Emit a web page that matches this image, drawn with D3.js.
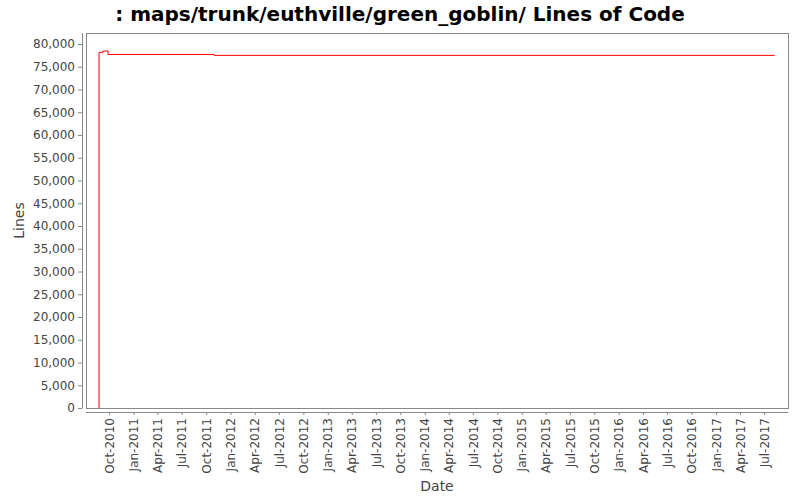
<!DOCTYPE html>
<html>
<head>
<meta charset="utf-8">
<script src="https://cdn.jsdelivr.net/npm/d3@7"></script>
<style>
  body { margin: 0; background: #fff; }
  text { font-family: "DejaVu Sans", sans-serif; }
</style>
</head>
<body>
<div id="chart-area"></div>
<script>
const title = ": maps/trunk/euthville/green_goblin/ Lines of Code";

// step points of the lines-of-code series
const dates = ["2010-08-23", "2010-08-24", "2010-09-08", "2010-09-27", "2011-10-31", "2017-08-10"];
const lines = [0, 78175, 78460, 77700, 77500, 77500];

const yTicks = d3.range(0, 80001, 5000);
const xTickDates = ["2010-10-01", "2011-01-01", "2011-04-01", "2011-07-01", "2011-10-01",
  "2012-01-01", "2012-04-01", "2012-07-01", "2012-10-01", "2013-01-01", "2013-04-01",
  "2013-07-01", "2013-10-01", "2014-01-01", "2014-04-01", "2014-07-01", "2014-10-01",
  "2015-01-01", "2015-04-01", "2015-07-01", "2015-10-01", "2016-01-01", "2016-04-01",
  "2016-07-01", "2016-10-01", "2017-01-01", "2017-04-01", "2017-07-01"];

const parse = d3.utcParse("%Y-%m-%d");
const data = dates.map((d, i) => ({ date: parse(d), value: lines[i] }));

const svg = d3.select("#chart-area").append("svg")
    .attr("width", 800)
    .attr("height", 500);

const pLeft = 86, pRight = 788, pTop = 33, pBottom = 408;

const x = d3.scaleUtc()
    .domain([parse("2010-07-06"), parse("2017-09-29")])
    .range([pLeft, pRight]);

const y = d3.scaleLinear()
    .domain([0, 80000 * (pBottom - pTop) / (pBottom - 44)])
    .range([pBottom, pTop]);

svg.append("text")
    .attr("x", 400)
    .attr("y", 21)
    .attr("text-anchor", "middle")
    .style("font-size", "20px")
    .style("font-weight", "bold")
    .text(title);

// plot frame
svg.append("rect")
    .attr("x", pLeft + 0.5).attr("y", pTop + 0.5)
    .attr("width", pRight - pLeft).attr("height", pBottom - pTop)
    .attr("fill", "#fff")
    .attr("stroke", "#888");

// y axis
const yAxis = svg.append("g")
    .attr("transform", "translate(82,0)")
    .call(d3.axisLeft(y).tickValues(yTicks).tickFormat(d3.format(",")).tickSizeOuter(0).tickSize(4));
yAxis.select(".domain").attr("stroke", "#888").attr("d", `M0.5,${pTop}V${pBottom + 0.5}`);
yAxis.selectAll(".tick line").attr("stroke", "#888");
yAxis.selectAll(".tick text")
    .attr("fill", "#444")
    .style("font-size", "12px")
    .style("font-family", "DejaVu Sans, sans-serif");

// x axis
const xAxis = svg.append("g")
    .attr("transform", `translate(0,412)`)
    .call(d3.axisBottom(x).tickValues(xTickDates.map(parse)).tickFormat(d3.utcFormat("%b-%Y")).tickSizeOuter(0).tickSize(3));
xAxis.select(".domain").attr("stroke", "#888").attr("d", `M${pLeft},0.5H${pRight}`);
xAxis.selectAll(".tick line").attr("stroke", "#888");
xAxis.selectAll(".tick text")
    .attr("fill", "#444")
    .style("font-size", "12px")
    .style("font-family", "DejaVu Sans, sans-serif")
    .attr("text-anchor", "end")
    .attr("dy", "0.35em")
    .attr("transform", "translate(0,6) rotate(-90)")
    .attr("x", 0)
    .attr("y", 0);

// axis labels
svg.append("text")
    .attr("x", (pLeft + pRight) / 2)
    .attr("y", 491)
    .attr("text-anchor", "middle")
    .attr("fill", "#444")
    .style("font-size", "14px")
    .text("Date");

svg.append("text")
    .attr("transform", `translate(24,${(pTop + pBottom) / 2}) rotate(-90)`)
    .attr("text-anchor", "middle")
    .attr("fill", "#444")
    .style("font-size", "14px")
    .text("Lines");

const line = d3.line()
    .x(d => x(d.date))
    .y(d => y(d.value))
    .curve(d3.curveStepAfter);

svg.append("path")
    .datum(data)
    .attr("fill", "none")
    .attr("stroke", "#ff0000")
    .attr("stroke-width", 1)
    .attr("d", line);
</script>
</body>
</html>
